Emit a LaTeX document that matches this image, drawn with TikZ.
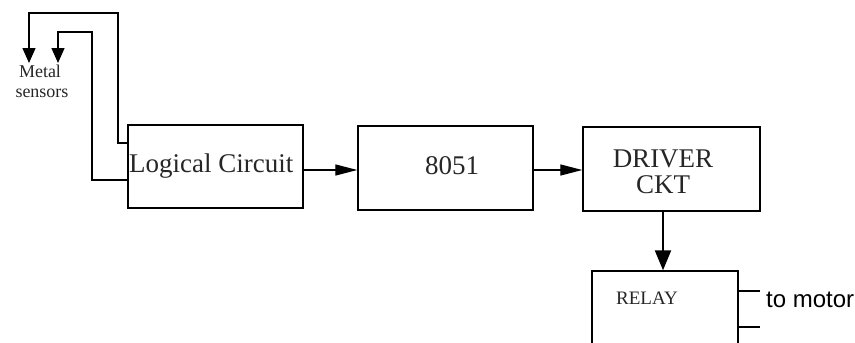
\documentclass[tikz,border=0pt]{standalone}
\usepackage{fontspec}
\setmainfont{Liberation Serif}
\newfontfamily\armfont{Liberation Sans}
\usetikzlibrary{arrows.meta}
\begin{document}
\begin{tikzpicture}[x=1pt,y=-1pt,
  blk/.style={draw,line width=1.4pt,inner sep=0pt},
  wire/.style={line width=1.3pt},
  harrow/.style={wire,-{Triangle[length=22pt,width=11pt]}},
  varrow/.style={line width=2.2pt,-{Triangle[length=20pt,width=16pt]}},
  sarrow/.style={wire,-{Triangle[length=15pt,width=13pt]}},
  lbl/.style={font=\fontsize{27}{30}\selectfont,text=black!85},
  sens/.style={inner sep=0pt,anchor=base,text=black!85,font=\fontsize{18}{19}\selectfont}]
\useasboundingbox (0,0) rectangle (855,343);
\clip (0,0) rectangle (855,343);
% boxes
\node[blk,minimum width=175pt,minimum height=83pt] (lc) at (215.5,166.5) {};
\node[blk,minimum width=175pt,minimum height=84pt] (cpu) at (445.5,168) {};
\node[blk,minimum width=177pt,minimum height=84pt] (drv) at (671.5,169) {};
\node[blk,minimum width=146pt,minimum height=90pt] (rly) at (665,316) {};
% labels
\node[lbl,anchor=west,inner sep=0pt] (lctxt) at (129,166) {Logical Circuit};
\node[lbl,inner sep=0pt] (cputxt) at (452,166) {8051};
\node[lbl,inner sep=0pt,align=center,font=\fontsize{27}{26}\selectfont] (drvtxt) at (663,172) {DRIVER\\CKT};
\node[inner sep=0pt,text=black!85,font=\fontsize{19}{20}\selectfont] (rlytxt) at (647,298) {RELAY};
\node[sens] (sens1) at (40,77) {Metal};
\node[sens] (sens2) at (42,97) {sensors};
% connectors
\draw[harrow] (lc.east |- 0,170) -- (cpu.west |- 0,170);
\draw[harrow] (cpu.east |- 0,170) -- (drv.west |- 0,170);
\draw[varrow] (drv.south -| 663,0) -- (rly.north -| 663,0);
\coordinate (s1) at (29,63);
\coordinate (s2) at (58,63);
\draw[sarrow] (lc.west |- 0,143) -- (118,143) -- (118,13) -- (29,13) -- (s1);
\draw[sarrow] (lc.west |- 0,180) -- (92,180) -- (92,32) -- (58,32) -- (s2);
% motor wires
\coordinate (m1) at (760,291);
\coordinate (m2) at (760,327);
\draw[wire] (rly.east |- m1) -- (m1);
\draw[wire] (rly.east |- m2) -- (m2);
\node[anchor=west,inner sep=0pt,font=\armfont\fontsize{24}{26}\selectfont] (mot) at (766,300) {to motor};
\end{tikzpicture}
\end{document}
